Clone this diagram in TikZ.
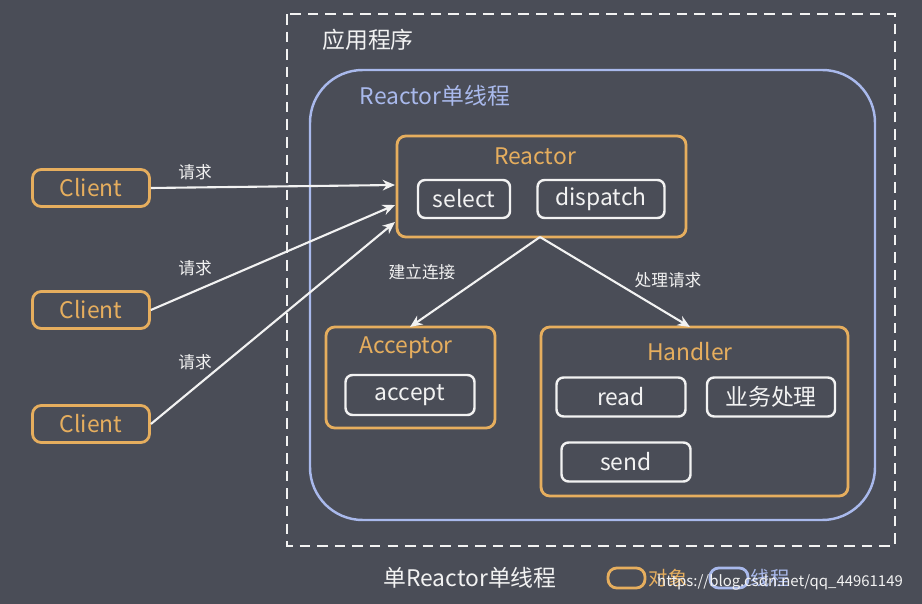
\documentclass[tikz,border=0pt]{standalone}
\usepackage{fontspec}
\setmainfont{Noto Sans CJK SC}
\usetikzlibrary{arrows.meta,positioning}
\definecolor{bg}{HTML}{4A4D57}
\definecolor{obj}{HTML}{E6AE5E}
\definecolor{thr}{HTML}{A9B9EC}
\definecolor{txt}{HTML}{F2F2F2}
\tikzset{
  obj/.style={draw=obj, line width=1.6pt, rounded corners=5pt, fill=bg},
  inner/.style={draw=txt, line width=1.4pt, rounded corners=4pt, text=txt,
    font=\fontsize{13}{15}\selectfont, inner sep=0pt},
  title/.style={text=obj, font=\fontsize{13}{15}\selectfont},
  lbl/.style={text=txt, font=\fontsize{9.5}{11}\selectfont},
  arr/.style={draw=txt, line width=1.2pt, -{Stealth[length=7pt,width=6pt]}}
}
\begin{document}
\begin{tikzpicture}[x=0.02cm, y=-0.02cm]
  \fill[bg] (0,0) rectangle (922,604);
  \useasboundingbox (0,0) rectangle (922,604);

  % application frame
  \draw[txt, line width=1.4pt, dash pattern=on 6pt off 4pt] (287,14) rectangle (895,546);
  \node[text=txt, font=\fontsize{13}{15}\selectfont] at (368,40) {应用程序};
  \draw[thr, line width=1.4pt, rounded corners=30pt] (310,70) rectangle (875,520);
  \node[text=thr, font=\fontsize{13}{15}\selectfont] at (435,96) {Reactor单线程};

  % reactor
  \draw[obj] (397,136) rectangle (686,237);
  \node[title] at (535,156) {Reactor};
  \node[inner, minimum width=92*0.02cm, minimum height=38*0.02cm] (sel) at (464,199) {select};
  \node[inner, minimum width=127*0.02cm, minimum height=38*0.02cm] (disp) at (601,199) {dispatch};
  \coordinate (rin1) at (395,185);
  \coordinate (rin2) at (395,205);
  \coordinate (rin3) at (395,222);
  \coordinate (rout) at (540,237);

  % acceptor
  \draw[obj] (326,327) rectangle (495,428);
  \node[title] at (406,348) {Acceptor};
  \node[inner, minimum width=129*0.02cm, minimum height=40*0.02cm] (acc) at (410,395) {accept};
  \coordinate (ain) at (410,327);

  % handler
  \draw[obj] (541,327) rectangle (848,496);
  \node[title] at (690,352) {Handler};
  \node[inner, minimum width=129*0.02cm, minimum height=39*0.02cm] (rd) at (621,397) {read};
  \node[inner, minimum width=128*0.02cm, minimum height=39*0.02cm] (biz) at (771,397) {业务处理};
  \node[inner, minimum width=129*0.02cm, minimum height=39*0.02cm] (snd) at (626,462) {send};
  \coordinate (hin) at (690,327);

  % clients
  \foreach \n/\y in {c1/188, c2/310, c3/424}
    \node[obj, text=obj, font=\fontsize{13}{15}\selectfont, minimum width=117*0.02cm,
      minimum height=37*0.02cm, inner sep=0pt] (\n) at (91,\y) {Client};

  \draw[arr] (c1.east) -- (rin1);
  \draw[arr] (c2.east) -- (rin2);
  \draw[arr] (c3.east) -- (rin3);
  \node[lbl] at (195,172) {请求};
  \node[lbl] at (195,268) {请求};
  \node[lbl] at (195,362) {请求};

  \draw[arr] (rout) -- (ain);
  \draw[arr] (rout) -- (hin);
  \node[lbl] at (422,272) {建立连接};
  \node[lbl] at (668,280) {处理请求};

  % legend
  \node[text=txt, font=\fontsize{13}{15}\selectfont] at (470,578) {单Reactor单线程};
  \draw[obj] (608,568) rectangle (645,588);
  \node[text=obj, font=\fontsize{11}{13}\selectfont] at (668,578) {对象};
  \draw[thr, line width=1.6pt, rounded corners=5pt] (710,568) rectangle (748,588);
  \node[text=thr, font=\fontsize{11}{13}\selectfont] at (770,578) {线程};
  \node[text=txt, font=\fontsize{8.5}{10}\selectfont] at (780,582) {https://blog.csdn.net/qq\_44961149};
\end{tikzpicture}
\end{document}
